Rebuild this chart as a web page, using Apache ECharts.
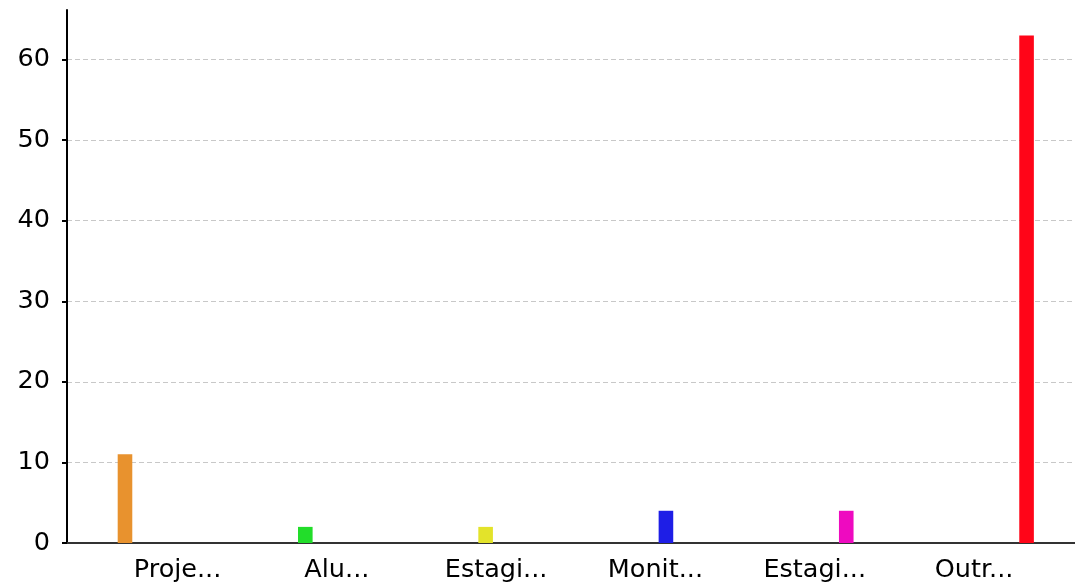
<!DOCTYPE html>
<html>
<head>
<meta charset="utf-8">
<title>Bar chart</title>
<script src="https://cdn.jsdelivr.net/npm/echarts@6/dist/echarts.min.js"></script>
<style>
  html, body { margin: 0; padding: 0; background: #ffffff; }
  #chart { width: 1075px; height: 585px; }
</style>
</head>
<body>
<div id="chart"></div>
<script>
// Category labels shown under each group
const categories = ['Proje...', 'Alu...', 'Estagi...', 'Monit...', 'Estagi...', 'Outr...'];

// One series per category; each one only has a value in its own group
const seriesProje   = [11, 0, 0, 0, 0, 0];
const seriesAlu     = [0, 2, 0, 0, 0, 0];
const seriesEstagiA = [0, 0, 2, 0, 0, 0];
const seriesMonit   = [0, 0, 0, 4, 0, 0];
const seriesEstagiB = [0, 0, 0, 0, 4, 0];
const seriesOutr    = [0, 0, 0, 0, 0, 63];

const yTicks = [0, 10, 20, 30, 40, 50, 60];

const seriesList = [
  { name: 'Proje...',  values: seriesProje,   color: '#e8922e' },
  { name: 'Alu...',    values: seriesAlu,     color: '#22dd2a' },
  { name: 'Estagi...', values: seriesEstagiA, color: '#e3e32a' },
  { name: 'Monit...',  values: seriesMonit,   color: '#1e1ee6' },
  { name: 'Estagi...', values: seriesEstagiB, color: '#ee0ac0' },
  { name: 'Outr...',   values: seriesOutr,    color: '#ff0518' }
];

const positions = categories.map((_, i) => i);
const font = 'DejaVu Sans';

const chart = echarts.init(document.getElementById('chart'), null, { renderer: 'canvas' });

chart.setOption({
  animation: false,
  backgroundColor: '#ffffff',
  grid: { left: 67, right: 0, top: 10, bottom: 42, containLabel: false },
  xAxis: {
    type: 'value',
    min: -0.694,
    max: 5.634,
    splitLine: { show: false },
    axisTick: { show: false },
    axisLine: { show: true, onZero: false, lineStyle: { color: '#333333', width: 2 } },
    axisLabel: {
      customValues: positions,
      formatter: (v) => categories[Math.round(v)],
      color: '#000000',
      fontFamily: font,
      fontSize: 25.5,
      margin: 14
    }
  },
  yAxis: {
    type: 'value',
    min: 0,
    max: 66.15,
    axisLine: { show: true, onZero: false, lineStyle: { color: '#000000', width: 2 } },
    axisTick: { show: true, length: 5, customValues: yTicks, lineStyle: { color: '#000000', width: 2 } },
    axisLabel: {
      customValues: yTicks,
      color: '#000000',
      fontFamily: font,
      fontSize: 25.5,
      margin: 17
    },
    splitLine: {
      show: true,
      showMinLine: true,
      showMaxLine: true,
      lineStyle: { color: '#c8c8c8', width: 1.2, type: [5, 3] }
    }
  },
  series: seriesList.map((s) => ({
    type: 'bar',
    name: s.name,
    data: s.values.map((v, i) => [positions[i], v]),
    barWidth: 14.6,
    barGap: '44%',
    itemStyle: { color: s.color },
    silent: true
  }))
});
</script>
</body>
</html>
